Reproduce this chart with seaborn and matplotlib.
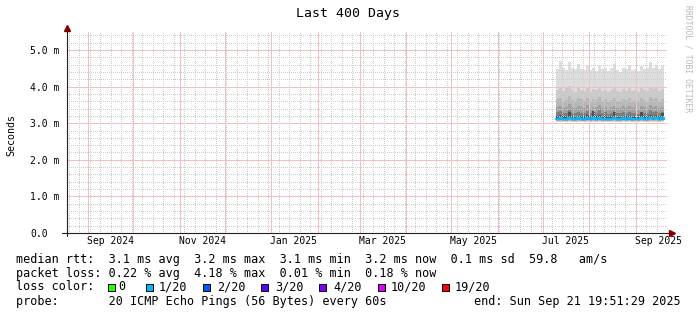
import numpy as np
import pandas as pd
import matplotlib
matplotlib.use("Agg")
import matplotlib.pyplot as plt
import matplotlib.dates as mdates
from matplotlib.patches import Rectangle
from matplotlib.ticker import MultipleLocator, FuncFormatter
import seaborn as sns

# ---------------- data ----------------
title = "Last 400 Days"
x_start = pd.Timestamp("2024-08-17 19:51:29")
x_end = pd.Timestamp("2025-09-21 19:51:29")
dates = pd.date_range("2025-07-10", periods=37, freq="2D")

# smoke layers (ms): outer (lightest) to inner (darkest)
top1 = [4.48, 4.70, 4.52, 4.45, 4.68, 4.50, 4.47, 4.62, 4.49, 4.45, 4.58, 4.46, 4.50,
        4.44, 4.55, 4.47, 4.52, 4.43, 4.50, 4.62, 4.46, 4.40, 4.52, 4.47, 4.60, 4.45,
        4.49, 4.42, 4.55, 4.47, 4.50, 4.66, 4.52, 4.60, 4.48, 4.55, 4.50]
top2 = [3.92, 3.98, 3.88, 3.95, 4.02, 3.90, 3.86, 3.96, 3.91, 3.88, 3.97, 3.85, 3.93,
        3.90, 3.99, 3.87, 3.92, 3.84, 3.90, 3.98, 3.88, 3.86, 3.94, 3.89, 3.96, 3.87,
        3.91, 3.85, 3.95, 3.90, 3.88, 4.00, 3.93, 3.97, 3.89, 3.94, 3.90]
top3 = [3.66, 3.70, 3.62, 3.64, 3.74, 3.63, 3.60, 3.68, 3.65, 3.61, 3.70, 3.60, 3.66,
        3.63, 3.71, 3.62, 3.65, 3.59, 3.63, 3.69, 3.62, 3.60, 3.67, 3.63, 3.68, 3.61,
        3.64, 3.60, 3.68, 3.63, 3.62, 3.72, 3.66, 3.69, 3.62, 3.66, 3.64]
top4 = [3.45, 3.48, 3.42, 3.44, 3.52, 3.43, 3.41, 3.47, 3.44, 3.42, 3.49, 3.40, 3.45,
        3.43, 3.50, 3.42, 3.45, 3.40, 3.43, 3.48, 3.42, 3.41, 3.46, 3.43, 3.47, 3.41,
        3.44, 3.40, 3.47, 3.43, 3.42, 3.50, 3.45, 3.48, 3.42, 3.45, 3.44]
top5 = [3.30, 3.33, 3.28, 3.29, 3.36, 3.28, 3.27, 3.32, 3.29, 3.28, 3.34, 3.27, 3.30,
        3.28, 3.35, 3.28, 3.30, 3.26, 3.29, 3.33, 3.28, 3.27, 3.31, 3.28, 3.32, 3.27,
        3.29, 3.26, 3.32, 3.28, 3.28, 3.35, 3.30, 3.33, 3.28, 3.30, 3.29]
top6 = [3.20, 3.22, 3.19, 3.19, 3.30, 3.19, 3.18, 3.21, 3.19, 3.19, 3.23, 3.18, 3.34,
        3.19, 3.22, 3.18, 3.20, 3.18, 3.19, 3.30, 3.18, 3.18, 3.21, 3.19, 3.21, 3.18,
        3.19, 3.18, 3.32, 3.19, 3.19, 3.23, 3.20, 3.22, 3.19, 3.28, 3.20]
bot1 = [3.03, 3.02, 3.03, 3.02, 3.04, 3.03, 3.02, 3.03, 3.03, 3.02, 3.03, 3.02, 3.04,
        3.03, 3.03, 3.02, 3.03, 3.02, 3.03, 3.04, 3.02, 3.02, 3.03, 3.03, 3.03, 3.02,
        3.03, 3.02, 3.04, 3.03, 3.02, 3.04, 3.03, 3.04, 3.02, 3.03, 3.03]
bot2 = [3.05, 3.04, 3.05, 3.04, 3.06, 3.05, 3.04, 3.05, 3.05, 3.04, 3.05, 3.04, 3.06,
        3.05, 3.05, 3.04, 3.05, 3.04, 3.05, 3.06, 3.04, 3.04, 3.05, 3.05, 3.05, 3.04,
        3.05, 3.04, 3.06, 3.05, 3.04, 3.06, 3.05, 3.06, 3.04, 3.05, 3.05]
bot3 = [3.06, 3.06, 3.06, 3.05, 3.07, 3.06, 3.06, 3.06, 3.06, 3.05, 3.06, 3.06, 3.07,
        3.06, 3.06, 3.06, 3.06, 3.05, 3.06, 3.07, 3.06, 3.05, 3.06, 3.06, 3.06, 3.06,
        3.06, 3.05, 3.07, 3.06, 3.06, 3.07, 3.06, 3.07, 3.06, 3.06, 3.06]
bot4 = [3.07, 3.08, 3.07, 3.07, 3.09, 3.07, 3.07, 3.08, 3.07, 3.07, 3.08, 3.07, 3.09,
        3.07, 3.08, 3.07, 3.07, 3.07, 3.07, 3.09, 3.07, 3.07, 3.08, 3.07, 3.08, 3.07,
        3.07, 3.07, 3.09, 3.07, 3.07, 3.09, 3.08, 3.09, 3.07, 3.08, 3.07]
bot5 = [3.09, 3.10, 3.09, 3.08, 3.11, 3.09, 3.09, 3.10, 3.09, 3.08, 3.10, 3.09, 3.11,
        3.09, 3.10, 3.09, 3.09, 3.08, 3.09, 3.11, 3.09, 3.08, 3.10, 3.09, 3.10, 3.09,
        3.09, 3.08, 3.11, 3.09, 3.09, 3.11, 3.10, 3.11, 3.09, 3.10, 3.09]
bot6 = [3.10, 3.11, 3.10, 3.09, 3.12, 3.10, 3.10, 3.11, 3.10, 3.09, 3.11, 3.10, 3.12,
        3.10, 3.11, 3.10, 3.10, 3.09, 3.10, 3.12, 3.10, 3.09, 3.11, 3.10, 3.11, 3.10,
        3.10, 3.09, 3.12, 3.10, 3.10, 3.12, 3.11, 3.12, 3.10, 3.11, 3.10]
median = [3.12, 3.13, 3.12, 3.11, 3.14, 3.12, 3.12, 3.13, 3.12, 3.11, 3.13, 3.12, 3.14,
          3.12, 3.13, 3.12, 3.12, 3.11, 3.12, 3.15, 3.12, 3.11, 3.13, 3.12, 3.13, 3.12,
          3.12, 3.11, 3.14, 3.12, 3.12, 3.14, 3.13, 3.14, 3.12, 3.13, 3.12]
smoke_colors = ["#dddddd", "#cacaca", "#b7b7b7", "#a0a0a0", "#7e7e7e", "#505050"]

y_ticks_label = lambda v, p: "0.0" if v == 0 else f"{v:.1f} m"

legend_lines = [
    "median rtt:  3.1 ms avg  3.2 ms max  3.1 ms min  3.2 ms now  0.1 ms sd  59.8   am/s",
    "packet loss: 0.22 % avg  4.18 % max  0.01 % min  0.18 % now",
    "loss color:",
    "probe:       20 ICMP Echo Pings (56 Bytes) every 60s",
]
end_text = "end: Sun Sep 21 19:51:29 2025"
loss_labels = ["0", "1/20", "2/20", "3/20", "4/20", "10/20", "19/20"]
loss_colors = ["#26ff00", "#00b8ff", "#0059ff", "#5e00ff", "#7e00ff", "#dd00ff", "#ff0000"]
median_color = "#00b8ff"

# ---------------- figure ----------------
W, H = 697, 315
sns.set_theme(style="white")
plt.rcParams["font.family"] = ["DejaVu Sans Mono", "DejaVu Sans"]

fig = plt.figure(figsize=(W / 100, H / 100), dpi=100)
fig.patch.set_facecolor("white")
L, R, T, B = 67, 667, 31, 233
ax = fig.add_axes([L / W, 1 - B / H, (R - L) / W, (B - T) / H])
ax.set_facecolor("white")

tops = [top1, top2, top3, top4, top5, top6]
bots = [bot1, bot2, bot3, bot4, bot5, bot6]
for top, bot, c in zip(tops, bots, smoke_colors):
    ax.fill_between(dates, bot, top, step="post", color=c, linewidth=0, zorder=1)

df = pd.DataFrame({"date": dates, "median": median})
sns.lineplot(data=df, x="date", y="median", ax=ax, color=median_color,
             drawstyle="steps-post", linewidth=1.6, zorder=4)

ax.set_xlim(x_start, x_end)
ax.set_ylim(0, 5.52)
ax.set_xlabel("")
ax.set_ylabel("Seconds", fontsize=7.2, color="black")
ax.yaxis.set_label_coords(-0.084, 0.485)

# grids
ax.set_axisbelow(False)
ax.xaxis.set_major_locator(mdates.MonthLocator())
ax.xaxis.set_minor_locator(mdates.WeekdayLocator(byweekday=mdates.MO))
ax.xaxis.set_major_formatter(plt.NullFormatter())
ax.yaxis.set_major_locator(MultipleLocator(1.0))
ax.yaxis.set_minor_locator(MultipleLocator(0.2))
ax.yaxis.set_major_formatter(FuncFormatter(y_ticks_label))
grid_gray = "#cccccc"
grid_red = "#f2c0c0"
ax.grid(which="minor", color=grid_gray, linestyle=(0, (1, 2)), linewidth=0.72,
        antialiased=False, zorder=2)
ax.grid(which="major", color=grid_red, linestyle=(0, (1, 1)), linewidth=0.72,
        antialiased=False, zorder=3)

ax.tick_params(axis="x", which="major", length=3, width=0.7, direction="inout", color="#212121")
ax.tick_params(axis="x", which="minor", length=0)
ax.tick_params(axis="y", which="minor", length=0)
ax.tick_params(axis="y", which="major", length=3, width=0.7, direction="inout",
               color="#212121", labelsize=7, labelcolor="black", pad=25.1)
plt.setp(ax.get_yticklabels(), ha="left")

for s in ax.spines.values():
    s.set_visible(False)

# axis lines with arrows
ax.plot([-0.008, 1.006], [0, 0], transform=ax.transAxes, color="#212121", lw=0.8,
        clip_on=False, zorder=6)
ax.plot([0, 0], [-0.015, 1.01], transform=ax.transAxes, color="#212121", lw=0.8,
        clip_on=False, zorder=6)
ax.plot([1.008], [0], marker=">", markersize=4.5, color="#800000", transform=ax.transAxes,
        clip_on=False, zorder=7)
ax.plot([0], [1.015], marker="^", markersize=4.5, color="#800000", transform=ax.transAxes,
        clip_on=False, zorder=7)

# month labels (mid-month, every 2 months)
sec = ax.secondary_xaxis("bottom")
sec.xaxis.set_major_locator(mdates.MonthLocator(bymonth=[1, 3, 5, 7, 9, 11], bymonthday=16))
sec.xaxis.set_major_formatter(mdates.DateFormatter("%b %Y"))
sec.tick_params(length=0, pad=2.2, labelsize=7, labelcolor="black")
for s in sec.spines.values():
    s.set_visible(False)

# title and watermark
fig.text(348 / W, 1 - 14 / H, title, ha="center", va="center", fontsize=9.5, color="black")
fig.text(688 / W, 1 - 59 / H, "RRDTOOL / TOBI OETIKER", ha="center", va="center",
         rotation=270, fontsize=5.8, color="#b8b8b8")

# legend
rows_y = [259, 273, 287, 301]
for txt, yy in zip(legend_lines, rows_y):
    fig.text(15.5 / W, 1 - yy / H, txt, ha="left", va="center", fontsize=8.5, color="black")
fig.text(681 / W, 1 - 301 / H, end_text, ha="right", va="center", fontsize=8.5, color="black")

sq_x = [108, 146, 203, 261, 319, 378, 442]
lab_x = [118, 159, 217, 275, 333, 391, 455]
for sx, lx, lab, col in zip(sq_x, lab_x, loss_labels, loss_colors):
    fig.add_artist(Rectangle((sx / W, 1 - 290.5 / H), 7 / W, 7 / H, transform=fig.transFigure,
                             facecolor=col, edgecolor="black", linewidth=0.7))
    fig.text(lx / W, 1 - 287 / H, lab, ha="left", va="center", fontsize=8.5, color="black")

fig.savefig("out.png", dpi=100, facecolor="white")
